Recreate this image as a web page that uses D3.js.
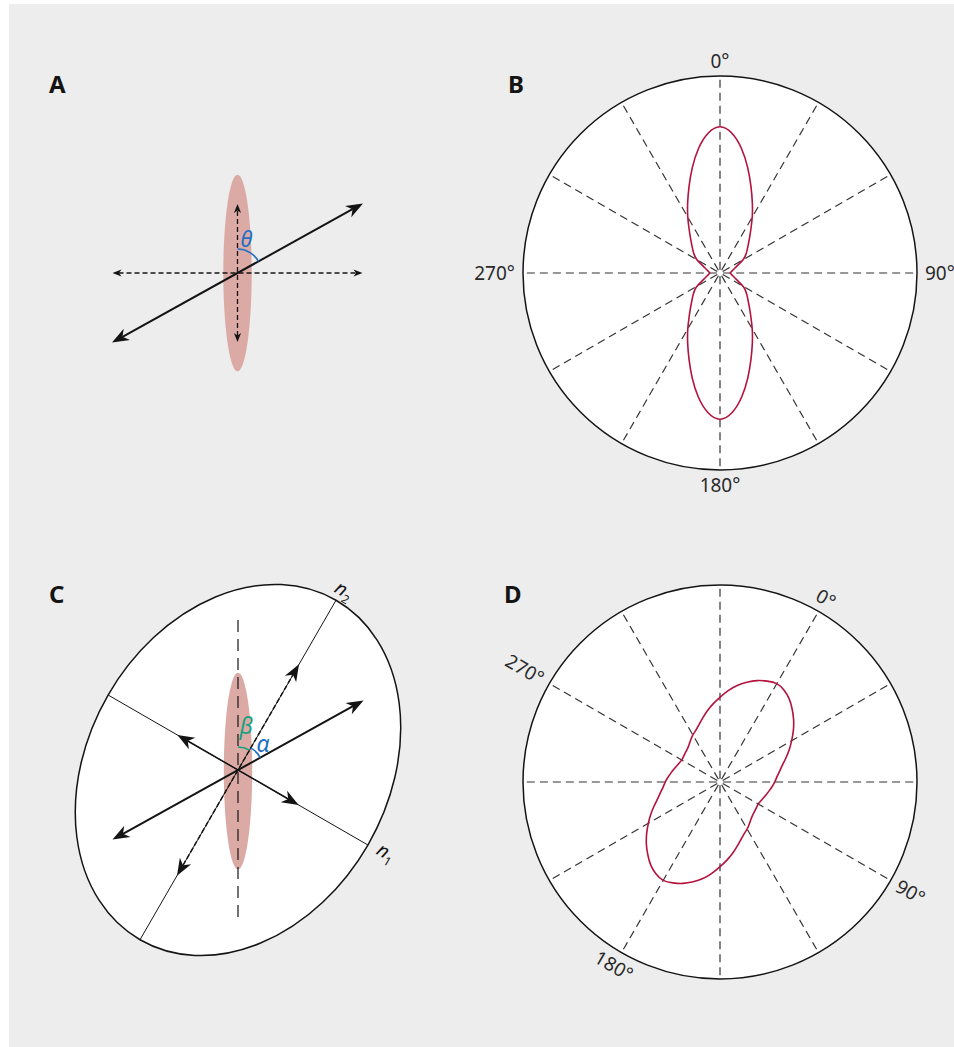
<!DOCTYPE html>
<html><head><meta charset="utf-8">
<script src="https://cdn.jsdelivr.net/npm/d3@7"></script>
<style>body{margin:0;background:#fff}</style>
</head><body>
<svg id="fig" width="954" height="1047"></svg>
<script>
// ---------------- data ----------------
const spokeAngles = [0, 30, 60, 90, 120, 150, 180, 210, 240, 270, 300, 330];
const tickAngles  = [0, 90, 180, 270];
const tickLabels  = ["0°", "90°", "180°", "270°"];
const curveAngles = [0,5,10,15,20,25,30,35,40,45,50,55,60,65,70,75,80,85,
                     90,95,100,105,110,115,120,125,130,135,140,145,150,155,160,165,170,175,
                     180,185,190,195,200,205,210,215,220,225,230,235,240,245,250,255,260,265,
                     270,275,280,285,290,295,300,305,310,315,320,325,330,335,340,345,350,355];
// panel B: relative radius (outer circle = 1)
const patternB = [0.755,0.719,0.645,0.553,0.464,0.391,0.330,0.274,0.234,0.203,0.180,0.160,0.139,0.105,0.085,0.072,0.062,0.056,
                  0.051,0.056,0.062,0.072,0.085,0.105,0.139,0.160,0.180,0.203,0.234,0.274,0.330,0.391,0.464,0.553,0.645,0.719,
                  0.755,0.719,0.645,0.553,0.464,0.391,0.330,0.274,0.234,0.203,0.180,0.160,0.139,0.105,0.085,0.072,0.062,0.056,
                  0.051,0.056,0.062,0.072,0.085,0.105,0.139,0.160,0.180,0.203,0.234,0.274,0.330,0.391,0.464,0.553,0.645,0.719];
// panel D: relative radius (outer circle = 1), angles in the rotated frame
const patternD = [0.582,0.570,0.551,0.520,0.490,0.456,0.421,0.389,0.357,0.327,0.307,0.289,0.279,0.266,0.254,0.244,0.235,0.228,
                  0.223,0.226,0.230,0.235,0.245,0.260,0.277,0.289,0.311,0.338,0.369,0.400,0.431,0.467,0.500,0.525,0.550,0.566,
                  0.582,0.570,0.551,0.520,0.490,0.456,0.421,0.389,0.357,0.327,0.307,0.289,0.279,0.266,0.254,0.244,0.235,0.228,
                  0.223,0.226,0.230,0.235,0.245,0.260,0.277,0.289,0.311,0.338,0.369,0.400,0.431,0.467,0.500,0.525,0.550,0.566];
const panelLetters = ["A", "B", "C", "D"];
const rotationD = 30;        // frame rotation of panel D (deg)
const beamAngle = 61;        // incident beam, deg from vertical
const axisAngle = 30;        // n2 axis, deg from vertical
const ellipseAxes = {n1: 150, n2: 196};

// ---------------- setup ----------------
const svg = d3.select("#fig");
svg.append("rect").attr("x", 9).attr("y", 4).attr("width", 945).attr("height", 1043).attr("fill", "#ededed");

const FONT = "'Noto Sans', 'Open Sans', sans-serif";
const BLUE = "#1f6fc4", GREEN = "#17a080", RED = "#b3123e", PINK = "#dcaaa5", INK = "#141414";
const R = 197;
const rScale = d3.scaleLinear().domain([0, 1]).range([0, R]);
const rad = d => d * Math.PI / 180;
const dir = a => [Math.sin(rad(a)), -Math.cos(rad(a))];

// ---------------- polar panels ----------------
function polarPanel(cx, cy, rot, values) {
  const g = svg.append("g").attr("transform", `translate(${cx},${cy})`);
  g.append("circle").attr("r", R).attr("fill", "#fff").attr("stroke", INK).attr("stroke-width", 1.5);
  g.selectAll("line.spoke").data(spokeAngles).join("line").attr("class", "spoke")
    .attr("x1", a => rScale(0.016) * dir(a)[0]).attr("y1", a => rScale(0.016) * dir(a)[1])
    .attr("x2", a => rScale(1) * dir(a)[0]).attr("y2", a => rScale(1) * dir(a)[1])
    .attr("stroke", "#333").attr("stroke-width", 1.2).attr("stroke-dasharray", "8,5");
  const pts = curveAngles.map((a, i) => ({angle: a, value: values[i]}));
  const line = d3.lineRadial().angle(d => rad(d.angle + rot)).radius(d => rScale(d.value))
    .curve(d3.curveBasisClosed);
  g.append("path").attr("d", line(pts)).attr("fill", "none").attr("stroke", RED).attr("stroke-width", 1.6);
  const lg = g.append("g").attr("transform", `rotate(${rot})`);
  const off = R + 8;
  lg.selectAll("text").data(tickAngles).join("text")
    .attr("x", a => a === 90 ? off : a === 270 ? -off : 0)
    .attr("y", a => a === 0 ? -off : a === 180 ? off : 0)
    .attr("dy", a => a === 0 ? "0em" : a === 180 ? "0.74em" : "0.36em")
    .attr("text-anchor", a => a === 90 ? "start" : a === 270 ? "end" : "middle")
    .attr("font-family", FONT).attr("font-size", 19).attr("fill", "#2a2a2a")
    .text((a, i) => tickLabels[i]);
}
polarPanel(720, 273, 0, patternB);
polarPanel(720, 782, rotationD, patternD);

// ---------------- arrow helpers ----------------
const bigHead = "M0,0 L-17,-6.5 L-12,0 L-17,6.5 Z";
const smallHead = "M0,0 L-9,-3.6 L-6.5,0 L-9,3.6 Z";
function head(g, x, y, a, shape) {
  g.append("path").attr("d", shape).attr("fill", INK)
    .attr("transform", `translate(${x},${y}) rotate(${a - 90})`);
}
function doubleArrow(g, a, len, opts) {
  const [dx, dy] = dir(a);
  const back = opts.back || 0;
  g.append("line")
    .attr("x1", -dx * (len - back)).attr("y1", -dy * (len - back))
    .attr("x2", dx * (len - back)).attr("y2", dy * (len - back))
    .attr("stroke", INK).attr("stroke-width", opts.width)
    .attr("stroke-dasharray", opts.dash || null);
  head(g, dx * len, dy * len, a, opts.shape);
  head(g, -dx * len, -dy * len, a + 180, opts.shape);
}
function arcPath(r, a0, a1) {
  const p = d3.path();
  p.arc(0, 0, r, rad(a0 - 90), rad(a1 - 90));
  return p.toString();
}

// ---------------- panel A ----------------
{
  const g = svg.append("g").attr("transform", "translate(237.5,273)");
  g.append("ellipse").attr("rx", 14.2).attr("ry", 98.3).attr("fill", PINK);
  doubleArrow(g, 90, 125, {width: 1.3, dash: "5,3", shape: smallHead, back: 6});
  doubleArrow(g, 0, 69, {width: 1.3, dash: "5,3", shape: smallHead, back: 6});
  doubleArrow(g, beamAngle, 143.5, {width: 2, shape: bigHead, back: 12});
  g.append("path").attr("d", arcPath(24, 0, beamAngle)).attr("fill", "none").attr("stroke", BLUE).attr("stroke-width", 1.6);
  g.append("text").attr("x", 9).attr("y", -26).attr("text-anchor", "middle")
    .attr("font-family", FONT).attr("font-style", "italic").attr("font-size", 22).attr("fill", BLUE).text("θ");
}

// ---------------- panel C ----------------
{
  const g = svg.append("g").attr("transform", "translate(238,770)");
  g.append("ellipse").attr("rx", ellipseAxes.n1).attr("ry", ellipseAxes.n2)
    .attr("transform", `rotate(${axisAngle})`).attr("fill", "#fff").attr("stroke", INK).attr("stroke-width", 1.5);
  g.append("ellipse").attr("rx", 14.2).attr("ry", 98.3).attr("cy", 1).attr("fill", PINK);
  const n2 = dir(axisAngle), n1 = dir(axisAngle + 90);
  g.append("line").attr("x1", -n2[0] * ellipseAxes.n2).attr("y1", -n2[1] * ellipseAxes.n2)
    .attr("x2", n2[0] * ellipseAxes.n2).attr("y2", n2[1] * ellipseAxes.n2)
    .attr("stroke", INK).attr("stroke-width", 1);
  g.append("line").attr("x1", -n1[0] * ellipseAxes.n1).attr("y1", -n1[1] * ellipseAxes.n1)
    .attr("x2", n1[0] * ellipseAxes.n1).attr("y2", n1[1] * ellipseAxes.n1)
    .attr("stroke", INK).attr("stroke-width", 1);
  g.append("line").attr("x1", 0).attr("y1", -150).attr("x2", 0).attr("y2", 148)
    .attr("stroke", INK).attr("stroke-width", 1.2).attr("stroke-dasharray", "12,7");
  doubleArrow(g, axisAngle, 122, {width: 1.5, dash: "5,2.5", shape: bigHead, back: 12});
  doubleArrow(g, axisAngle + 90, 70, {width: 1.5, shape: bigHead, back: 12});
  doubleArrow(g, beamAngle, 143.5, {width: 2, shape: bigHead, back: 12});
  g.append("path").attr("d", arcPath(23, 0, axisAngle)).attr("fill", "none").attr("stroke", GREEN).attr("stroke-width", 1.6);
  g.append("path").attr("d", arcPath(25.5, axisAngle, beamAngle)).attr("fill", "none").attr("stroke", BLUE).attr("stroke-width", 1.6);
  g.append("text").attr("x", 8).attr("y", -36).attr("text-anchor", "middle")
    .attr("font-family", FONT).attr("font-style", "italic").attr("font-size", 23).attr("fill", GREEN).text("β");
  g.append("text").attr("x", 25).attr("y", -18).attr("text-anchor", "middle")
    .attr("font-family", FONT).attr("font-style", "italic").attr("font-size", 23).attr("fill", BLUE).text("α");
  const lab = (name, sub, x, y) => {
    const t = g.append("text").attr("transform", `translate(${x},${y}) rotate(${axisAngle})`)
      .attr("text-anchor", "middle").attr("font-family", FONT).attr("font-size", 19).attr("fill", INK);
    t.append("tspan").attr("font-style", "italic").text(name);
    t.append("tspan").attr("font-size", 12).attr("dy", 5).text(sub);
  };
  lab("n", "2", 103, -174);
  lab("n", "1", 145, 88);
}

// ---------------- panel letters ----------------
const letterPos = [[49, 93], [508, 93], [49, 603], [504, 603]];
svg.selectAll("text.letter").data(panelLetters).join("text").attr("class", "letter")
  .attr("x", (d, i) => letterPos[i][0]).attr("y", (d, i) => letterPos[i][1])
  .attr("font-family", FONT).attr("font-weight", "bold").attr("font-size", 24).attr("fill", INK)
  .text(d => d);
</script>
</body></html>
